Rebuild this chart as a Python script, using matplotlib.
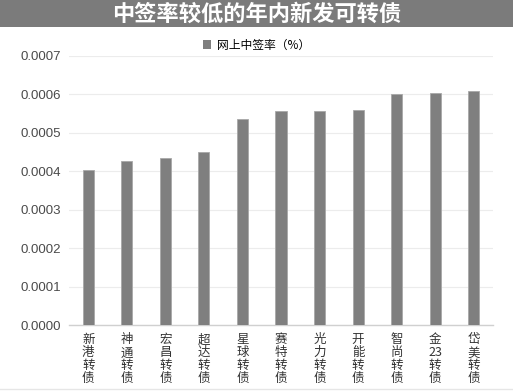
import matplotlib
matplotlib.use("Agg")
import matplotlib.pyplot as plt
from matplotlib.patches import Rectangle
from matplotlib.lines import Line2D

plt.rcParams['font.family'] = ['Noto Sans CJK SC', 'DejaVu Sans']

title = "中签率较低的年内新发可转债"
series_name = "网上中签率（%）"
categories = ["新\n港\n转\n债", "神\n通\n转\n债", "宏\n昌\n转\n债", "超\n达\n转\n债",
              "星\n球\n转\n债", "赛\n特\n转\n债", "光\n力\n转\n债", "开\n能\n转\n债",
              "智\n尚\n转\n债", "金\n23\n转\n债", "岱\n美\n转\n债"]
values = [0.000403, 0.000427, 0.000434, 0.000449, 0.000536, 0.000557,
          0.000557, 0.000560, 0.000600, 0.000605, 0.000608]
yticks = [0.0, 0.0001, 0.0002, 0.0003, 0.0004, 0.0005, 0.0006, 0.0007]
ytick_labels = ["0.0000", "0.0001", "0.0002", "0.0003", "0.0004", "0.0005", "0.0006", "0.0007"]

fig = plt.figure(figsize=(5.13, 3.92), dpi=100)
fig.patch.set_facecolor("white")

# title banner
fig.patches.append(Rectangle((0, 1 - 27/392), 1, 27/392, transform=fig.transFigure,
                             facecolor="#7b7b7b", edgecolor="none", zorder=0))
fig.text(0.5, 1 - 14/392, title, ha="center", va="center", color="white",
         fontsize=16, fontweight="bold")

ax = fig.add_axes([69/513, 1 - 325/392, (493 - 69)/513, (325 - 56)/392])
x = list(range(len(categories)))
ax.bar(x, values, width=0.29, color="#7f7f7f", edgecolor="#a8a8a8", linewidth=0.6, zorder=3)
ax.set_xlim(-0.5, len(categories) - 0.5)
ax.set_ylim(0, 0.0007)
ax.set_yticks(yticks)
ax.set_yticklabels(ytick_labels, fontsize=9.5, color="#4a4a4a",
                   family=["Liberation Sans", "DejaVu Sans"])
ax.set_xticks(x)
ax.set_xticklabels(categories, fontsize=9, color="#333333", linespacing=1.0, va="top")
ax.tick_params(axis="both", length=0)
ax.tick_params(axis="y", pad=6)
ax.tick_params(axis="x", pad=6)
ax.grid(axis="y", color="#ececec", linewidth=0.8, zorder=0)
for s in ["top", "right", "left"]:
    ax.spines[s].set_visible(False)
ax.spines["bottom"].set_color("#d0d0d0")
ax.spines["bottom"].set_linewidth(1.0)

# legend
handle = Rectangle((0, 0), 1, 1, facecolor="#7f7f7f", edgecolor="none")
fig.legend([handle], [series_name], loc="center", bbox_to_anchor=(0.5, 1 - 45/392),
           frameon=False, fontsize=8.5, handlelength=0.7, handleheight=0.7, handletextpad=0.5)

# bottom light rule
fig.add_artist(Line2D([0, 1], [1 - 389/392, 1 - 389/392], transform=fig.transFigure,
                      color="#e6e6e6", linewidth=1))

fig.savefig("out.png", dpi=100)
